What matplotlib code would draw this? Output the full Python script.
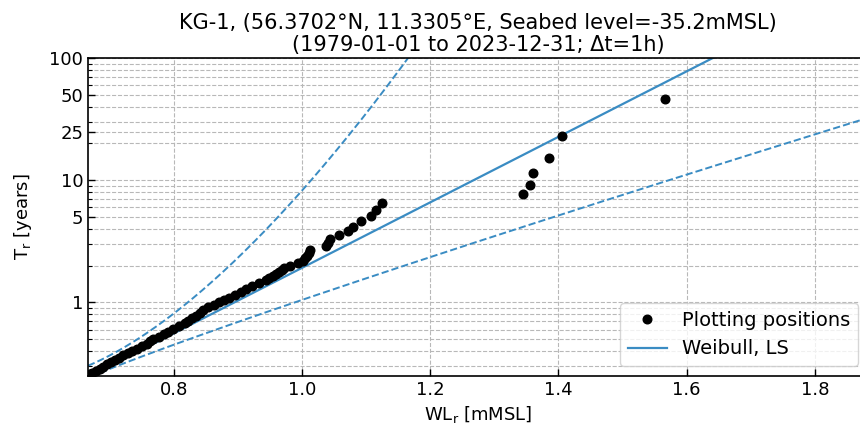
import numpy as np
import matplotlib
matplotlib.use("Agg")
import matplotlib.pyplot as plt
from matplotlib.ticker import FixedLocator, FixedFormatter, LogLocator, NullFormatter

# ---- data ----
wl = [1.567, 1.406, 1.385, 1.361, 1.356, 1.344,
      1.124, 1.116, 1.108, 1.092, 1.080, 1.072, 1.058, 1.043, 1.041, 1.037,
      1.013, 1.011, 1.008, 1.004, 1.001, 0.994, 0.981, 0.972,
      0.968, 0.964, 0.959, 0.954, 0.948, 0.944,
      0.933, 0.922, 0.913, 0.905, 0.895, 0.886, 0.878, 0.870, 0.862, 0.854,
      0.846, 0.840, 0.834, 0.828, 0.822, 0.817,
      0.808, 0.798, 0.791, 0.784, 0.776, 0.768, 0.763, 0.758, 0.750, 0.742,
      0.735, 0.728, 0.721, 0.714, 0.708, 0.702, 0.696, 0.690, 0.684, 0.678,
      0.673, 0.669, 0.665]
tr = [46.0, 23.0, 15.33, 11.5, 9.2, 7.67,
      6.57, 5.75, 5.11, 4.6, 4.18, 3.83, 3.54, 3.29, 3.07, 2.875,
      2.71, 2.56, 2.42, 2.3, 2.19, 2.09, 2.0, 1.917,
      1.84, 1.769, 1.704, 1.643, 1.586, 1.533,
      1.4375, 1.353, 1.278, 1.211, 1.15, 1.095, 1.045, 1.0, 0.958, 0.92,
      0.868, 0.821, 0.780, 0.742, 0.708, 0.676,
      0.639, 0.605, 0.575, 0.548, 0.523, 0.5, 0.479, 0.46, 0.438, 0.418,
      0.4, 0.383, 0.368, 0.354, 0.338, 0.324, 0.311, 0.299, 0.2875, 0.277,
      0.267, 0.258, 0.25]

# fitted Weibull (LS) and confidence bounds: T = exp(((x-u)/sigma)^k) / rate
rate = 4.09
fit_u, fit_sigma, fit_k = 0.666, 0.1621, 1.0
up_u, up_sigma, up_k = 0.60, 0.1777, 1.55
lo_u, lo_sigma, lo_k = 0.67, 0.2203, 0.93

yticks = [1, 5, 10, 25, 50, 100]
ytick_labels = ["1", "5", "10", "25", "50", "100"]
xticks = [0.8, 1.0, 1.2, 1.4, 1.6, 1.8]
xlim = (0.666, 1.883)
ylim = (0.25, 100)

title = ("KG-1, (56.3702°N, 11.3305°E, Seabed level=-35.2mMSL)\n"
         "(1979-01-01 to 2023-12-31; Δt=1h)")

BLUE = "#3a8cc3"


def weib_T(x, u, sigma, k):
    z = np.clip((x - u) / sigma, 0, None)
    out = np.exp(z ** k) / rate
    out[x < u] = np.nan
    return out


fig = plt.figure(figsize=(8.6, 4.32), dpi=100)
ax = fig.add_axes([88 / 860, 1 - 376 / 432, (868 - 88) / 860, (376 - 58) / 432])

xx = np.linspace(xlim[0], xlim[1], 600)
ax.plot(xx, weib_T(xx, up_u, up_sigma, up_k), ls="--", color=BLUE, lw=1.4)
ax.plot(xx, weib_T(xx, lo_u, lo_sigma, lo_k), ls="--", color=BLUE, lw=1.4)
ax.plot(xx, weib_T(xx, fit_u, fit_sigma, fit_k), ls="-", color=BLUE, lw=1.6,
        label="Weibull, LS", zorder=2)
ax.plot(wl, tr, "o", color="black", ms=6.2, ls="none",
        label="Plotting positions", zorder=3)

ax.set_yscale("log")
ax.set_xlim(*xlim)
ax.set_ylim(*ylim)
ax.yaxis.set_major_locator(FixedLocator(yticks))
ax.yaxis.set_major_formatter(FixedFormatter(ytick_labels))
ax.yaxis.set_minor_locator(LogLocator(base=10, subs=np.arange(2, 10)))
ax.yaxis.set_minor_formatter(NullFormatter())
ax.set_xticks(xticks)
ax.set_xticklabels([f"{v:.1f}" for v in xticks])

ax.grid(True, which="both", ls="--", color="#b8b8b8", lw=0.8)
ax.tick_params(axis="both", which="major", direction="in", length=5, width=1.0,
               labelsize=13)
ax.tick_params(axis="both", which="minor", direction="in", length=3, width=0.8)
for s in ax.spines.values():
    s.set_linewidth(1.2)

ax.set_xlabel("WL$_\\mathregular{r}$ [mMSL]", fontsize=13)
ax.set_ylabel("T$_\\mathregular{r}$ [years]", fontsize=13, labelpad=11)
ax.set_title(title, fontsize=15, linespacing=1.1, pad=5)

handles, labels = ax.get_legend_handles_labels()
order = [1, 0]
ax.legend([handles[i] for i in order], [labels[i] for i in order],
          loc="lower right", fontsize=14)

fig.savefig("out.png", dpi=100)
